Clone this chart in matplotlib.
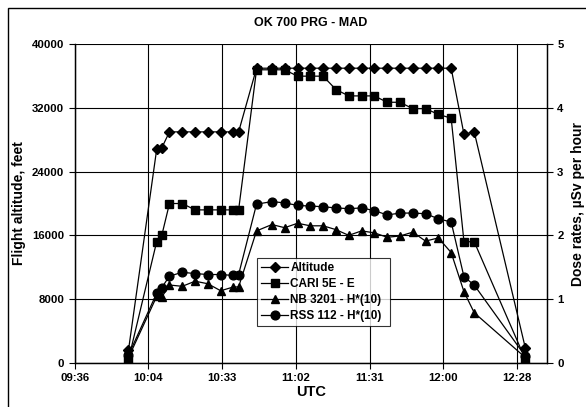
import numpy as np
import matplotlib
matplotlib.use('Agg')
import matplotlib.pyplot as plt
from matplotlib.patches import Rectangle

plt.rcParams['font.family'] = ['Liberation Sans', 'DejaVu Sans']
plt.rcParams['font.weight'] = 'bold'
plt.rcParams['axes.labelweight'] = 'bold'
plt.rcParams['axes.titleweight'] = 'bold'

# Measurement times (UTC)
times = ["09:57", "10:08", "10:10", "10:13", "10:18", "10:23", "10:28", "10:33",
         "10:38", "10:40", "10:47", "10:53", "10:58", "11:03", "11:08", "11:13",
         "11:18", "11:23", "11:28", "11:33", "11:38", "11:43", "11:48", "11:53",
         "11:58", "12:03", "12:08", "12:12", "12:32"]

# Flight altitude, feet
altitude = [1600, 26800, 27000, 29000, 29000, 29000, 29000, 29000, 29000, 29000,
            37000, 37000, 37000, 37000, 37000, 37000, 37000, 37000, 37000, 37000,
            37000, 37000, 37000, 37000, 37000, 37000, 28700, 29000, 1800]

# Dose rates, uSv per hour
cari = [0.05, 1.90, 2.00, 2.50, 2.50, 2.40, 2.40, 2.40, 2.40, 2.40,
        4.60, 4.60, 4.60, 4.50, 4.50, 4.50, 4.29, 4.19, 4.19, 4.19,
        4.09, 4.09, 3.99, 3.99, 3.90, 3.84, 1.90, 1.90, 0.05]
nb = [0.08, 1.04, 1.03, 1.22, 1.20, 1.28, 1.24, 1.13, 1.19, 1.19,
      2.07, 2.17, 2.12, 2.19, 2.15, 2.15, 2.09, 2.00, 2.07, 2.04,
      1.97, 1.99, 2.05, 1.91, 1.96, 1.73, 1.115, 0.785, 0.08]
rss = [0.12, 1.09, 1.18, 1.36, 1.42, 1.40, 1.385, 1.385, 1.37, 1.385,
       2.49, 2.53, 2.51, 2.47, 2.46, 2.45, 2.43, 2.42, 2.43, 2.39,
       2.32, 2.35, 2.35, 2.34, 2.26, 2.21, 1.35, 1.22, 0.10]

# time strings -> minutes of day
t = np.array([int(s[:2]) * 60 + int(s[3:]) for s in times])

fig = plt.figure(figsize=(5.86, 4.07), dpi=100)
ax = fig.add_axes([0.1275, 0.1088, 0.8055, 0.7823])
ax2 = ax.twinx()

l1, = ax.plot(t, altitude, color='black', lw=0.9, marker='D', ms=4.8, label='Altitude', zorder=3)
l2, = ax2.plot(t, cari, color='black', lw=0.9, marker='s', ms=6.3, label='CARI 5E - E')
l3, = ax2.plot(t, nb, color='black', lw=0.9, marker='^', ms=6.3, label='NB 3201 - H*(10)')
l4, = ax2.plot(t, rss, color='black', lw=0.9, marker='o', ms=6.3, label='RSS 112 - H*(10)')

# x axis: ticks every 0.02 day (28.8 min) from 09:36
xt = 576 + 28.8 * np.arange(7)
ax.set_xticks(xt)
ax.set_xticklabels([f"{int(m // 60):02d}:{int(m % 60):02d}" for m in xt])
ax.set_xlim(576, 576 + 0.128 * 1440)

ax.set_ylim(0, 40000)
ax.set_yticks(np.arange(0, 40001, 8000))
ax2.set_ylim(0, 5)
ax2.set_yticks(np.arange(0, 6, 1))

ax.grid(True, color='black', lw=0.8)
for a in (ax, ax2):
    a.tick_params(labelsize=8.2, length=4, width=0.8, direction='out')
    for sp in a.spines.values():
        sp.set_linewidth(0.9)
ax.spines['top'].set_visible(False)
ax2.spines['top'].set_visible(False)

ax.set_xlabel('UTC', fontsize=10.5, labelpad=1)
ax.set_ylabel('Flight altitude, feet', fontsize=10, labelpad=4)
ax2.set_ylabel('Dose rates, µSv per hour', fontsize=10, labelpad=5)
ax.set_title('OK 700 PRG - MAD', fontsize=9, pad=13)

leg = ax2.legend(handles=[l1, l2, l3, l4], loc='lower left',
                 bbox_to_anchor=(0.387, 0.116, 0.281, 0.233), mode='expand',
                 fontsize=8.5, frameon=True, fancybox=False, borderpad=0.3,
                 labelspacing=0.35, handlelength=2.3, handletextpad=0.2,
                 borderaxespad=0)
leg.get_frame().set_edgecolor('black')
leg.get_frame().set_linewidth(0.8)

# outer chart frame (runs off the right and bottom edges)
fig.patches.append(Rectangle((8 / 586, -0.05), 1.1, 1 - 8.3 / 407 + 0.05,
                             transform=fig.transFigure, fill=False,
                             edgecolor='black', lw=1.0))

fig.savefig('out.png', dpi=100)
